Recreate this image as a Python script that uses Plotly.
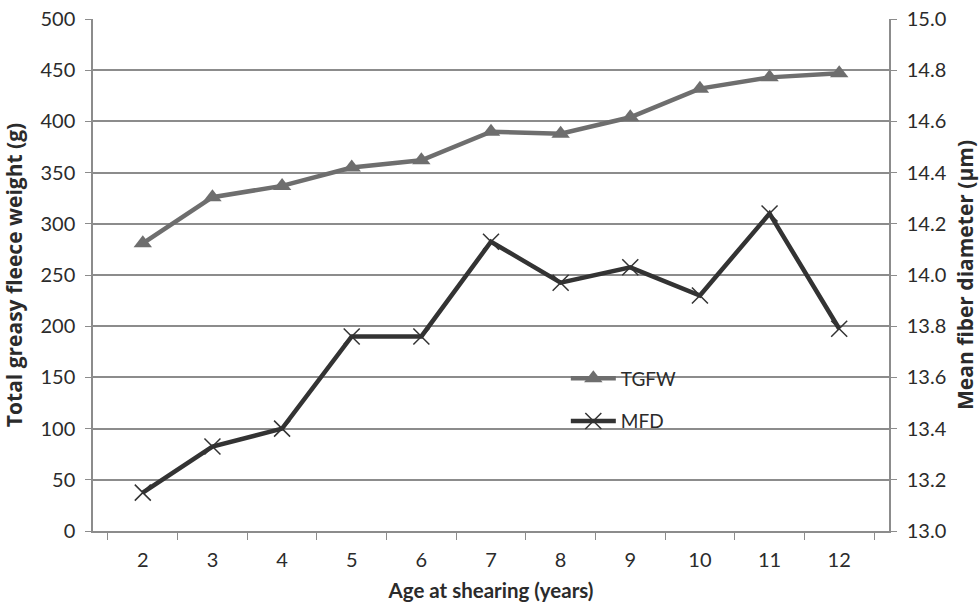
import plotly.graph_objects as go

ages = ["2", "3", "4", "5", "6", "7", "8", "9", "10", "11", "12"]
tgfw = [281, 326, 337, 355, 362, 390, 388, 404, 432, 443, 447]
mfd = [13.15, 13.33, 13.40, 13.76, 13.76, 14.13, 13.97, 14.03, 13.92, 14.24, 13.79]

left_ticks = [0, 50, 100, 150, 200, 250, 300, 350, 400, 450, 500]
right_ticks = [13.0, 13.2, 13.4, 13.6, 13.8, 14.0, 14.2, 14.4, 14.6, 14.8, 15.0]

FONT = "Lato, 'Open Sans', sans-serif"
VFONT = "'Open Sans', Lato, sans-serif"
GRID = "#8c8c8c"
TXT = "#2b2b2b"

fig = go.Figure()
fig.add_trace(go.Scatter(
    x=ages, y=tgfw, name="TGFW", mode="lines+markers",
    line=dict(color="#6e6e6e", width=4.5),
    marker=dict(symbol="triangle-up", size=16, color="#6e6e6e"),
    legendgroup="a",
))
fig.add_trace(go.Scatter(
    x=ages, y=mfd, name="MFD", mode="lines+markers", yaxis="y2",
    line=dict(color="#333333", width=4.5),
    marker=dict(symbol="x-thin", size=16, line=dict(color="#333333", width=1.5)),
    legendgroup="b",
))

fig.update_layout(
    width=979, height=608,
    margin=dict(l=93, r=90, t=19, b=77),
    paper_bgcolor="white", plot_bgcolor="white",
    font=dict(family=FONT, size=20, color=TXT),
    showlegend=True,
    legend=dict(x=0.594, y=0.335, xanchor="left", yanchor="top",
                bgcolor="rgba(0,0,0,0)", itemwidth=45, tracegroupgap=15,
                font=dict(size=19, color=TXT)),
    xaxis=dict(
        type="category", tickson="boundaries", ticks="outside", ticklen=7,
        tickcolor=GRID, showgrid=False, showline=True, linecolor=GRID, linewidth=1.5,
        ticklabelstandoff=10, automargin=False,
        title=dict(text="<b>Age at shearing (years)</b>", font=dict(size=20.5), standoff=14),
        tickfont=dict(size=20),
    ),
    yaxis=dict(
        range=[0, 500], tickvals=left_ticks, ticks="outside", ticklen=6, tickcolor=GRID,
        showgrid=True, gridcolor=GRID, gridwidth=1.5, showline=True, linecolor=GRID,
        linewidth=1.5, zeroline=False, ticklabelstandoff=6, automargin=False,
        title=dict(text="<b>Total greasy fleece weight (g)</b>",
                   font=dict(size=21, family=VFONT), standoff=12),
        tickfont=dict(size=20),
    ),
    yaxis2=dict(
        range=[13.0, 15.0], tickvals=right_ticks, tickformat=".1f", overlaying="y",
        side="right", ticks="outside", ticklen=6, tickcolor=GRID, showgrid=False,
        showline=True, linecolor=GRID, linewidth=1.5, zeroline=False, ticklabelstandoff=6,
        automargin=False,
        title=dict(text="<b>Mean fiber diameter (µm)</b>",
                   font=dict(size=21, family=VFONT), standoff=16),
        tickfont=dict(size=20),
    ),
)

fig.write_html("out.html")
